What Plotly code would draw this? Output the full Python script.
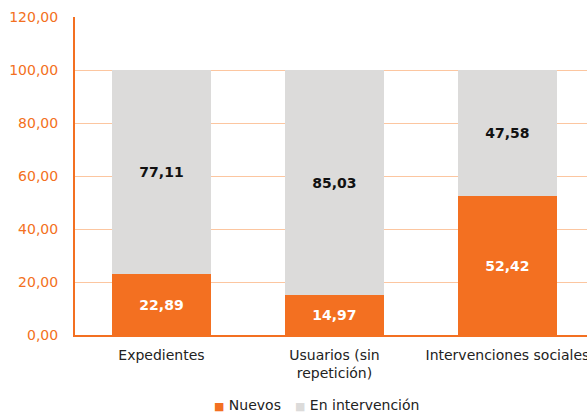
import plotly.graph_objects as go

categories = ["Expedientes", "Usuarios (sin<br>repetición)", "Intervenciones sociales"]
nuevos = [22.89, 14.97, 52.42]
en_intervencion = [77.11, 85.03, 47.58]
y_ticks = [0, 20, 40, 60, 80, 100, 120]
series_names = ["Nuevos", "En intervención"]

ORANGE = "#F37021"
GREY = "#DCDBDA"
FONT = "Verdana, DejaVu Sans, sans-serif"

fig = go.Figure()
fig.add_trace(go.Bar(
    x=categories, y=nuevos, name=series_names[0], marker=dict(color=ORANGE, line=dict(width=0)),
    width=0.57, texttemplate="%{y:.2f}", textposition="inside", insidetextanchor="middle",
    textfont=dict(color="white", size=14, family=FONT, weight="bold"), constraintext="none",
    showlegend=False,
))
fig.add_trace(go.Bar(
    x=categories, y=en_intervencion, name=series_names[1], marker=dict(color=GREY, line=dict(width=0)),
    width=0.57, texttemplate="%{y:.2f}", textposition="inside", insidetextanchor="middle",
    textfont=dict(color="#111111", size=14, family=FONT, weight="bold"), constraintext="none",
    showlegend=False,
))

# legend as text annotations with coloured square glyphs
fig.add_annotation(
    xref="paper", yref="paper", x=0.268, y=-0.22, xanchor="left", yanchor="middle",
    text=f"<span style='color:{ORANGE};font-size:11px'>■</span> {series_names[0]}", showarrow=False,
    font=dict(size=14, color="#222222", family=FONT),
)
fig.add_annotation(
    xref="paper", yref="paper", x=0.425, y=-0.22, xanchor="left", yanchor="middle",
    text=f"<span style='color:{GREY};font-size:11px'>■</span> {series_names[1]}", showarrow=False,
    font=dict(size=14, color="#222222", family=FONT),
)

fig.update_layout(
    barmode="stack",
    width=587, height=414,
    margin=dict(l=75, r=0, t=17, b=79, autoexpand=False),
    paper_bgcolor="white", plot_bgcolor="white",
    separators=",.",
    font=dict(family=FONT, size=14, color="#222222"),
    showlegend=False,
    xaxis=dict(range=[-0.5, 2.46], showline=True, linecolor=ORANGE, linewidth=2,
               showgrid=False, ticks="", tickfont=dict(size=14, color="#222222"),
               ticklabelstandoff=6, automargin=False),
    yaxis=dict(range=[0, 120], tickvals=y_ticks, tickformat=".2f",
               showline=True, linecolor=ORANGE, linewidth=2,
               gridcolor="#FCC6A0", gridwidth=1, zeroline=False,
               ticks="", tickfont=dict(size=14, color=ORANGE), ticklabelstandoff=12,
               automargin=False),
)

fig.write_html("out.html", config={"displayModeBar": False},
               post_script="document.body.style.margin='0';document.body.style.overflow='hidden';")
